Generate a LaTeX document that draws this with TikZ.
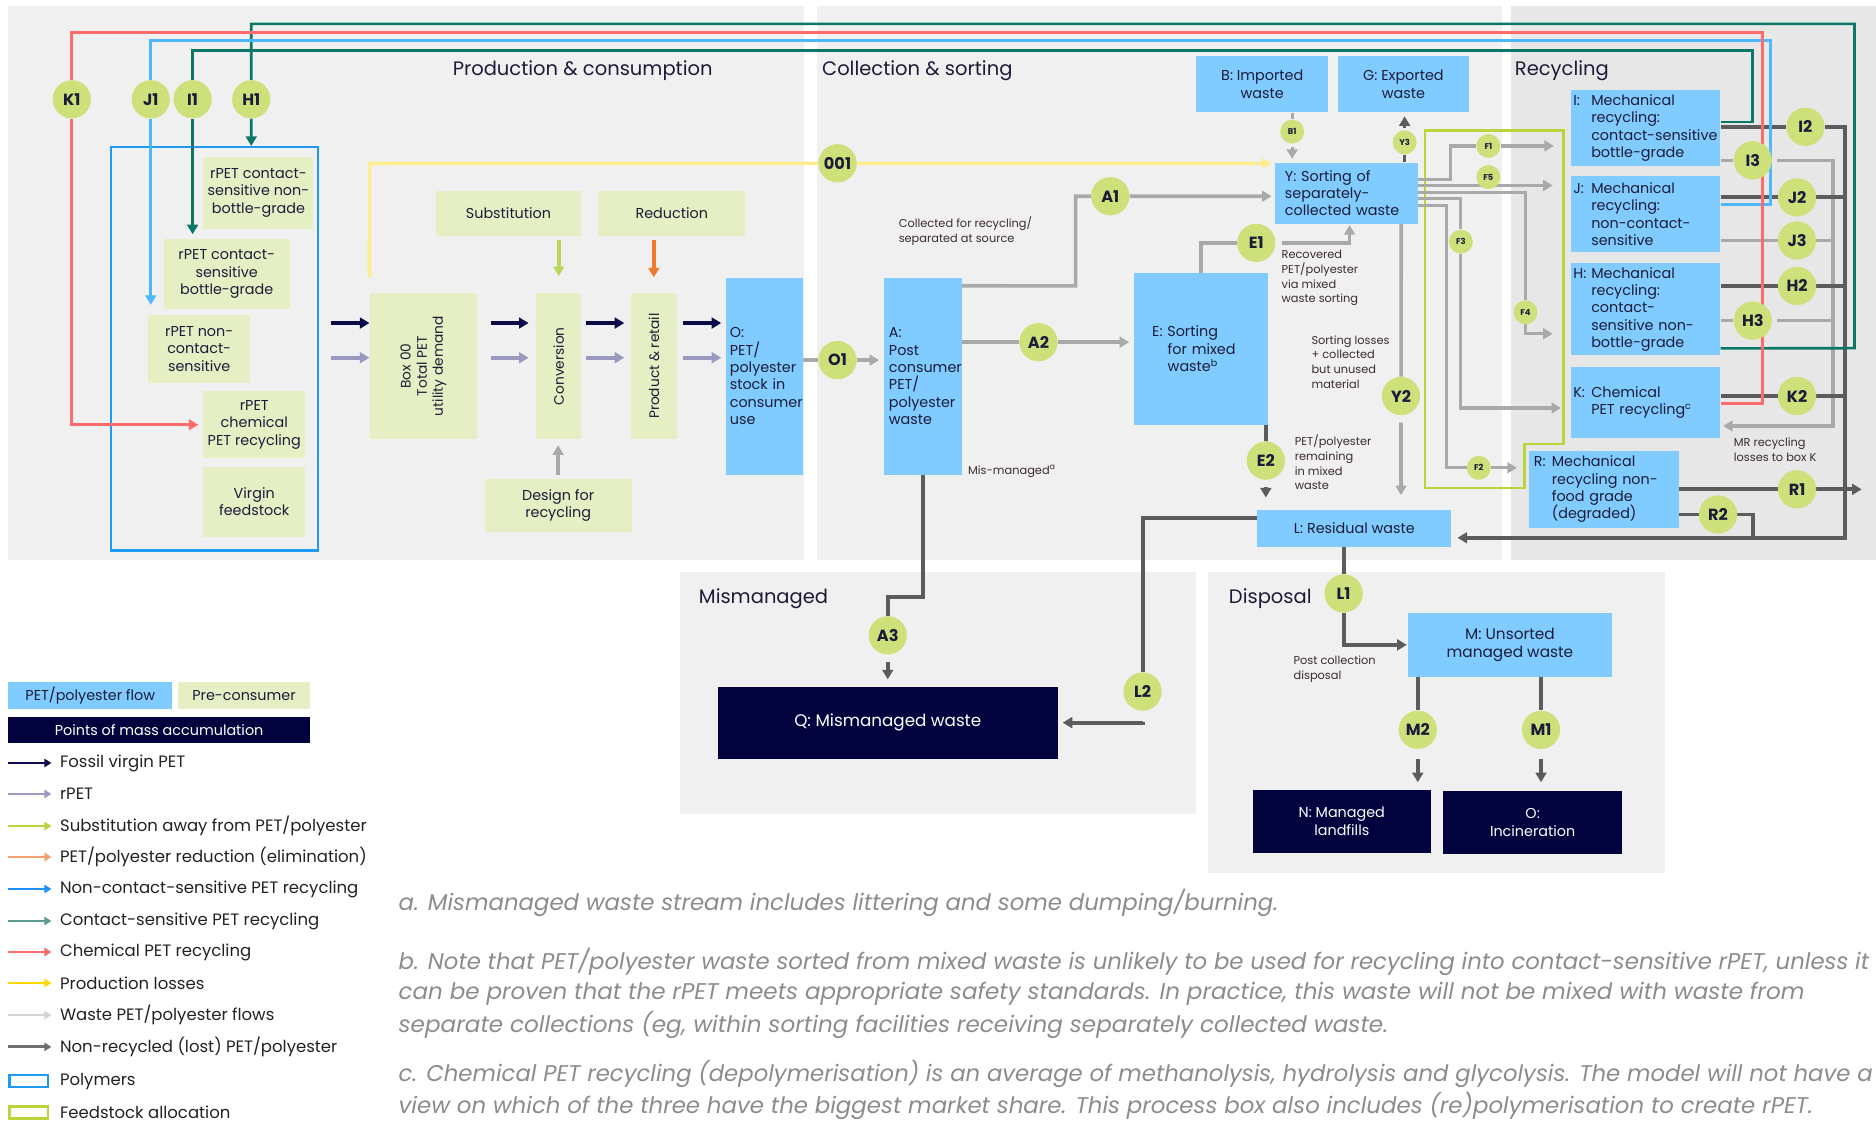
\documentclass[tikz,border=0pt]{standalone}
\usepackage{fontspec}
\usepackage{graphicx}
\setmainfont{Poppins}
\usetikzlibrary{arrows.meta,calc}
\definecolor{cpanel}{HTML}{F0F0F0}
\definecolor{cpanelb}{HTML}{E7E7E7}
\definecolor{cblue}{HTML}{80CBFF}
\definecolor{cpre}{HTML}{E6EFC3}
\definecolor{cnavy}{HTML}{02023F}
\definecolor{ccirc}{HTML}{CDE07A}
\definecolor{txt}{HTML}{1C1C3A}
\definecolor{cteal}{HTML}{0B7768}
\definecolor{cred}{HTML}{FF6B6B}
\definecolor{clblue}{HTML}{4DB8FF}
\definecolor{cpoly}{HTML}{1C9BF0}
\definecolor{cyel}{HTML}{FFEC8E}
\definecolor{cflow}{HTML}{A9A9A9}
\definecolor{clost}{HTML}{5C5C5C}
\definecolor{cnavar}{HTML}{0B0B47}
\definecolor{crpet}{HTML}{9B99BF}
\definecolor{csub}{HTML}{B9D65A}
\definecolor{corange}{HTML}{F07A30}
\definecolor{cfeed}{HTML}{B8D53A}
\definecolor{cann}{HTML}{3B2C2C}
\definecolor{cnote}{HTML}{8C8C8C}
\definecolor{lnav}{HTML}{0D0D4D}
\definecolor{lrpet}{HTML}{9C9AC2}
\definecolor{lsub}{HTML}{B8D43A}
\definecolor{lorange}{HTML}{F5A070}
\definecolor{lnc}{HTML}{1E90FF}
\definecolor{lcs}{HTML}{5E9C93}
\definecolor{lchem}{HTML}{FF6B6B}
\definecolor{lprod}{HTML}{FFD700}
\definecolor{lwaste}{HTML}{D3D3D3}
\definecolor{llost}{HTML}{6E6E6E}
\definecolor{legtxt}{HTML}{222222}
\newcommand\bxf{\fontsize{12}{14.5}\selectfont}
\newcommand\rotf{\fontsize{11.5}{13.5}\selectfont}
\newcommand\titlef{\fontsize{16.3}{20}\selectfont}
\newcommand\circf{\fontsize{13.5}{13.5}\selectfont\bfseries}
\newcommand\scircf{\fontsize{7}{7}\selectfont\bfseries}
\newcommand\annf{\fontsize{9.5}{12.3}\selectfont}
\newcommand\legf{\fontsize{13.8}{16}\selectfont}
\newcommand\legbf{\fontsize{12}{14}\selectfont}
\newcommand\notef{\fontsize{19}{22}\selectfont\itshape}
\newcommand\lbx[1]{\makebox[15pt][l]{#1}}
\newcommand\hin{\hspace*{15pt}}
\newcommand\rbox[7][]{\node[#1, minimum width={#5-#3}, minimum height={#6-#4}] (#2) at ({(#3+#5)/2},{(#4+#6)/2}) {#7};}
\pgfdeclarelayer{panels}
\pgfdeclarelayer{lines}
\pgfsetlayers{panels,lines,main}
\tikzset{
  box/.style={inner sep=0pt, align=center, text=txt, font=\bxf},
  bbox/.style={box, fill=cblue},
  gbox/.style={box, fill=cpre},
  nbox/.style={box, fill=cnavy, text=white},
  rbx/.style={bbox, align=left, text width=121pt, inner xsep=2pt},
  lcirc/.style={circle, fill=ccirc, inner sep=0pt, minimum size=32pt, font=\circf, text=txt},
  scirc/.style={circle, fill=ccirc, inner sep=0pt, minimum size=20pt, font=\scircf, text=txt},
  arr/.style={-{Triangle[length=8pt,width=9pt]}},
  larr/.style={-{Triangle[length=6pt,width=7pt]}},
  flow/.style={draw=cflow, line width=3pt},
  fflow/.style={draw=cflow, line width=2.6pt, arr},
  lostflow/.style={draw=clost, line width=3.2pt},
  navyflow/.style={draw=cnavar, line width=3pt, arr},
  rpetflow/.style={draw=crpet, line width=3pt, arr},
  topline/.style={line width=2.2pt, arr},
  ttl/.style={inner sep=0pt, font=\titlef, text=txt},
  ann/.style={inner sep=0pt, anchor=west, align=left, font=\annf, text=cann},
  legtext/.style={inner sep=0pt, anchor=west, font=\legf, text=legtxt},
  note/.style={inner sep=0pt, anchor=west, text=cnote},
}
\begin{document}
\begin{tikzpicture}[x=1pt,y=-1pt]
\useasboundingbox (0,0) rectangle (1568,939);
\begin{pgfonlayer}{panels}
\fill[white] (0,0) rectangle (1568,939);
\fill[cpanel] (7,5) rectangle (672,468);
\fill[cpanel] (683,5) rectangle (1255,468);
\fill[cpanelb] (1263,5) rectangle (1568,468);
\fill[cpanel] (568,478) rectangle (1000,680);
\fill[cpanel] (1010,478) rectangle (1392,730);
\node[draw=cpoly, line width=2pt, minimum width=173pt, minimum height=337pt, inner sep=0pt] (poly) at (179.5,291.5) {};
\draw[cfeed, line width=2.2pt] (1191,109) -- (1307,109) -- (1307,371) -- (1274,371) -- (1274,408) -- (1191,408) -- cycle;
\end{pgfonlayer}

% titles
\node[ttl] (tprod) at (487,59) {Production \& consumption};
\node[ttl, anchor=west] (tcoll) at (687,59) {Collection \& sorting};
\node[ttl, anchor=west] (trec) at (1266,59) {Recycling};
\node[ttl, anchor=west] (tmis) at (584,500) {Mismanaged};
\node[ttl, anchor=west] (tdis) at (1027,500) {Disposal};

% pre-consumer boxes
\rbox[gbox]{pcsnb}{170}{131}{262}{191}{rPET contact-\\sensitive non-\\bottle-grade}
\rbox[gbox]{pcsb}{137}{200}{242}{258}{rPET contact-\\sensitive\\bottle-grade}
\rbox[gbox]{pncs}{124}{263}{209}{320}{rPET non-\\contact-\\sensitive}
\rbox[gbox]{pchem}{170}{327}{255}{383}{rPET\\chemical\\PET recycling}
\rbox[gbox]{virgin}{170}{390}{255}{449}{Virgin\\feedstock}
\rbox[gbox]{box00}{309}{245}{399}{367}{\rotatebox{90}{\rotf\begin{tabular}{@{}c@{}}Box 00\\Total PET\\utility demand\end{tabular}}}
\rbox[gbox]{conv}{448}{245}{486}{367}{\rotatebox{90}{\rotf Conversion}}
\rbox[gbox]{prod}{527}{245}{566}{367}{\rotatebox{90}{\rotf Product \& retail}}
\rbox[gbox]{subst}{364}{160}{486}{197}{Substitution}
\rbox[gbox]{reduc}{500}{160}{623}{197}{Reduction}
\rbox[gbox]{design}{405}{400}{528}{445}{Design for\\recycling}

% blue boxes
\rbox[bbox, align=left, text width=58pt, inner xsep=3pt]{Obox}{607}{232}{671}{397}{O:\\PET/\\polyester\\stock in\\consumer\\use}
\rbox[bbox, align=left, text width=57pt, inner xsep=4pt]{Abox}{739}{232}{804}{397}{A:\\Post\\consumer\\PET/\\polyester\\waste}
\rbox[bbox, align=left, text width=82pt, inner xsep=15pt]{Ebox}{948}{228}{1060}{355}{E: Sorting\\\hspace*{13pt}for mixed\\\hspace*{13pt}waste\textsuperscript{b}}
\rbox[bbox, align=left, text width=103pt, inner xsep=8pt]{Ybox}{1066}{136}{1185}{187}{Y: Sorting of\\separately-\\collected waste}
\rbox[bbox]{Bbox}{1000}{47}{1110}{94}{B: Imported\\waste}
\rbox[bbox]{Gbox}{1118}{47}{1228}{94}{G: Exported\\waste}
\rbox[bbox]{Lbox}{1051}{426}{1213}{457}{L: Residual waste}
\rbox[rbx]{Ibox}{1313}{75}{1438}{139}{\lbx{I:}Mechanical\\\hin recycling:\\\hin contact-sensitive\\\hin bottle-grade}
\rbox[rbx]{Jbox}{1313}{147}{1438}{211}{\lbx{J:}Mechanical\\\hin recycling:\\\hin non-contact-\\\hin sensitive}
\rbox[rbx]{Hbox}{1313}{220}{1438}{297}{\lbx{H:}Mechanical\\\hin recycling:\\\hin contact-\\\hin sensitive non-\\\hin bottle-grade}
\rbox[rbx]{Kbox}{1313}{307}{1438}{366}{\lbx{K:}Chemical\\\hin PET recycling\textsuperscript{c}}
\rbox[bbox, align=left, text width=117pt, inner xsep=4pt]{Rbox}{1278}{377}{1403}{441}{\lbx{R:}Mechanical\\\hin recycling non-\\\hin food grade\\\hin (degraded)}
\rbox[bbox, font=\fontsize{12.8}{15}\selectfont]{Mbox}{1177}{512}{1347}{566}{M: Unsorted\\managed waste}
\rbox[nbox, font=\fontsize{14}{16}\selectfont]{Qbox}{600}{574}{884}{634}{Q: Mismanaged waste}
\rbox[nbox]{Nbox}{1047}{660}{1196}{713}{N: Managed\\landfills}
\rbox[nbox]{Oinc}{1206}{661}{1356}{714}{O:\\Incineration}

% circles
\node[lcirc] (K1) at (60,83) {K1};
\node[lcirc] (J1) at (126,83) {J1};
\node[lcirc] (I1) at (161,83) {I1};
\node[lcirc] (H1) at (210,83) {H1};
\node[lcirc] (n001) at (700,136.5) {001};
\node[lcirc] (O1) at (700,301) {O1};
\node[lcirc] (A1) at (928,164) {A1};
\node[lcirc] (A2) at (868,286) {A2};
\node[lcirc] (A3) at (742,531) {A3};
\node[lcirc] (E1) at (1050,203) {E1};
\node[lcirc] (E2) at (1058,385) {E2};
\node[lcirc] (Y2) at (1171,331) {Y2};
\node[lcirc] (L1) at (1123,496) {L1};
\node[lcirc] (L2) at (955,578) {L2};
\node[lcirc] (M2) at (1185,610) {M2};
\node[lcirc] (M1) at (1288,610) {M1};
\node[lcirc] (I2) at (1509,106) {I2};
\node[lcirc] (I3) at (1465,134) {I3};
\node[lcirc] (J2) at (1502,165) {J2};
\node[lcirc] (J3) at (1502,201) {J3};
\node[lcirc] (H2) at (1502,239) {H2};
\node[lcirc] (H3) at (1465,268) {H3};
\node[lcirc] (K2) at (1502,331) {K2};
\node[lcirc] (R1) at (1502,409) {R1};
\node[lcirc] (R2) at (1436,430) {R2};
\node[scirc] (B1) at (1080,110) {B1};
\node[scirc] (Y3) at (1174,119) {Y3};
\node[scirc] (F1) at (1244,122) {F1};
\node[scirc] (F5) at (1244,148) {F5};
\node[scirc] (F3) at (1221,202) {F3};
\node[scirc] (F4) at (1275,261) {F4};
\node[scirc] (F2) at (1236,391) {F2};
\coordinate (nv0) at (277,270);
\coordinate (rp0) at (277,299);
\coordinate (r1end) at (1556,409);

% annotations
\node[ann] (annA) at (751,193) {Collected for recycling/\\separated at source};
\node[ann] (annE1) at (1071,232.5) {Recovered\\PET/polyester\\via mixed\\waste sorting};
\node[ann] (annY2) at (1096,302.5) {Sorting losses\\+ collected\\but unused\\material};
\node[ann] (annE2) at (1082,386.5) {PET/polyester\\remaining\\in mixed\\waste};
\node[ann] (annMis) at (809,394) {Mis-managed\textsuperscript{a}};
\node[ann] (annPost) at (1081,559.5) {Post collection\\disposal};
\node[ann] (annMR) at (1449,376) {MR recycling\\losses to box K};

% connectors
\begin{pgfonlayer}{lines}
\draw[navyflow] (nv0) -- (nv0 -| box00.west);
\draw[rpetflow] (rp0) -- (rp0 -| box00.west);
\draw[navyflow, shorten <=11pt, shorten >=6pt] (nv0 -| box00.east) -- (nv0 -| conv.west);
\draw[rpetflow, shorten <=11pt, shorten >=6pt] (rp0 -| box00.east) -- (rp0 -| conv.west);
\draw[navyflow, shorten <=4pt, shorten >=5pt] (nv0 -| conv.east) -- (nv0 -| prod.west);
\draw[rpetflow, shorten <=4pt, shorten >=5pt] (rp0 -| conv.east) -- (rp0 -| prod.west);
\draw[navyflow, shorten <=5pt, shorten >=4pt] (nv0 -| prod.east) -- (nv0 -| Obox.west);
\draw[rpetflow, shorten <=5pt, shorten >=4pt] (rp0 -| prod.east) -- (rp0 -| Obox.west);
\draw[draw=csub, line width=3pt, arr, shorten <=3pt, shorten >=14pt] (conv.north |- subst.south) -- (conv.north);
\draw[draw=corange, line width=3pt, arr, shorten <=3pt, shorten >=13pt] (prod.north |- reduc.south) -- (prod.north);
\draw[flow, arr, shorten <=3pt, shorten >=5pt] (design.north) -- (design.north |- conv.south);
\draw[cyel, line width=3pt, arr, shorten >=3pt] ([yshift=13pt]box00.north west) -- (309,136.5) -- (n001) -- ([yshift=25pt]Ybox.west);
\draw[flow, arr, shorten >=4pt] ([yshift=13.5pt]Obox.east) -- (O1) -- (O1 -| Abox.west);
\draw[flow, arr, shorten >=3pt] ([yshift=-7pt]Abox.north east) -- (899,239) -- (899,164) -- (A1) -- (A1 -| Ybox.west);
\draw[flow, arr, shorten >=4pt] ([yshift=28.5pt]Abox.east) -- (A2) -- (A2 -| Ebox.west);
\draw[lostflow, arr, shorten <=6pt, shorten >=6pt] (Abox.south) -- (771.5,499) -- (742,499) -- (A3) -- (A3 |- Qbox.north);
\draw[flow, arr, shorten <=5pt, shorten >=1pt] (Ebox.north) -- (1004,203) -- (E1) -- (1128,203) -- ([xshift=2.5pt]Ybox.south);
\draw[lostflow, arr, shorten <=6pt, shorten >=10pt] ([xshift=-2pt]Ebox.south east) -- (E2) -- (E2 |- Lbox.north);
\draw[flow, arr, shorten <=6pt, shorten >=12pt] ([xshift=-14pt]Ybox.south east) -- (Y2) -- (Y2 |- Lbox.north);
\draw[draw=cflow, line width=2.5pt, arr, shorten <=3pt, shorten >=3pt] ([xshift=25pt]Bbox.south) -- (B1) -- (B1 |- Ybox.north);
\draw[draw=clost, line width=2.5pt, arr, shorten <=2pt, shorten >=3pt] (Y3 |- Ybox.north) -- (Y3) -- (Y3 |- Gbox.south);
% F flows
\draw[fflow, shorten >=14pt] ([yshift=11.5pt]Ybox.east) -- (1212,150) -- (1212,122) -- (F1) -- (F1 -| Ibox.west);
\draw[fflow, shorten >=15pt] ([yshift=6.5pt]Ybox.east) -- ([yshift=24pt]Jbox.west);
\draw[fflow, shorten >=15pt] ([yshift=0.5pt]Ybox.east) -- (1275,161) -- (F4) -- (1275,279) -- ([yshift=-20.5pt]Hbox.west);
\draw[fflow, shorten >=8pt] ([yshift=-4.5pt]Ybox.east) -- (1221,166) -- (F3) -- (1221,341) -- ([yshift=-4.5pt]Kbox.west);
\draw[fflow, shorten >=10pt] ([yshift=-10.5pt]Ybox.east) -- (1209,172) -- (1209,391) -- (F2) -- ([yshift=18pt]Rbox.west);
% light grey recycling losses
\draw[flow, arr, shorten <=4pt, shorten >=2pt] ([yshift=-27pt]Ibox.east) -- (I3) -- (1532,134) -- (1532,356) -- ([yshift=-19.5pt]Kbox.east);
\draw[flow] ([yshift=-22pt]Jbox.east) -- (J3) -- (1532,201);
\draw[flow, shorten <=4pt] ([yshift=-9.5pt]Hbox.east) -- (H3) -- (1532,268);
% dark lost flows
\draw[lostflow, arr, shorten >=5pt] ([yshift=1pt]Ibox.east) -- (I2) -- (1542,106) -- (1542,449.5) -- ([yshift=-8pt]Lbox.east);
\draw[lostflow] ([yshift=14pt]Jbox.east) -- (J2) -- (1542,165);
\draw[lostflow] ([yshift=19.5pt]Hbox.east) -- (H2) -- (1542,239);
\draw[lostflow] ([yshift=5.5pt]Kbox.east) -- (K2) -- (1542,331);
\draw[lostflow, arr] (Rbox.east) -- (R1) -- (r1end);
\draw[lostflow] ([yshift=-21pt]Rbox.east) -- (R2) -- (1465,430) -- (1465,449.5);
\draw[lostflow, arr, shorten >=1pt] ([xshift=-9pt]Lbox.south) -- (L1) -- (1123,539) -- (Mbox.west);
\draw[lostflow, arr, shorten <=9pt, shorten >=4pt] ([yshift=8.5pt]Lbox.west) -- (955,433) -- (L2) -- (L2 |- Qbox.east) -- (Qbox.east);
\draw[lostflow, arr, shorten <=8pt, shorten >=6pt] (M2 |- Mbox.south) -- (M2) -- (M2 |- Nbox.north);
\draw[lostflow, arr, shorten <=8pt, shorten >=7pt] (M1 |- Mbox.south) -- (M1) -- (M1 |- Oinc.north);
% top colour lines
\draw[cteal, topline] ([yshift=6pt]Hbox.south east) -- (1550,291) -- (1550,20) -- (210,20) -- (H1) -- (H1 |- poly.north);
\draw[cteal, topline, shorten >=4pt] ([yshift=5pt]Ibox.east) -- (1465,102) -- (1465,42) -- (161,42) -- (I1) -- (I1 |- pcsb.north);
\draw[clblue, topline, shorten >=8pt] ([yshift=8pt]Jbox.east) -- (1480,171) -- (1480,34) -- (126,34) -- (J1) -- (J1 |- pncs.north);
\draw[cred, topline, shorten >=4pt] ([yshift=-0.5pt]Kbox.east) -- (1473,337) -- (1473,27) -- (60,27) -- (K1) -- (60,355) -- (pchem.west);
\end{pgfonlayer}

% legend
\rbox[bbox, font=\legbf]{lgpet}{7}{570}{144}{593}{PET/polyester flow}
\rbox[gbox, font=\legbf]{lgpre}{149}{570}{259}{593}{Pre-consumer}
\rbox[nbox, font=\legbf]{lgacc}{7}{599}{259}{621}{Points of mass accumulation}
\node[legtext] (lt1) at (50,637.7) {Fossil virgin PET};
\node[legtext] (lt2) at (50,663.6) {rPET};
\node[legtext] (lt3) at (50,690.4) {Substitution away from PET/polyester};
\node[legtext] (lt4) at (50,716.3) {PET/polyester reduction (elimination)};
\node[legtext] (lt5) at (50,743) {Non-contact-sensitive PET recycling};
\node[legtext] (lt6) at (50,769.8) {Contact-sensitive PET recycling};
\node[legtext] (lt7) at (50,795.7) {Chemical PET recycling};
\node[legtext] (lt8) at (50,821.6) {Production losses};
\node[legtext] (lt9) at (50,848.4) {Waste PET/polyester flows};
\node[legtext] (lt10) at (50,875) {Non-recycled (lost) PET/polyester};
\node[legtext] (lt11) at (50,903.6) {Polymers};
\node[legtext] (lt12) at (50,930) {Feedstock allocation};
\foreach \n/\c in {lt1/lnav,lt2/lrpet,lt3/lsub,lt4/lorange,lt5/lnc,lt6/lcs,lt7/lchem,lt8/lprod,lt9/lwaste,lt10/llost}
  \draw[\c, line width=2.4pt, larr] ([xshift=-43pt]\n.west) -- ([xshift=-7pt]\n.west);
\node[draw=cpoly, line width=2.2pt, minimum width=32pt, minimum height=10pt, inner sep=0pt] (lgpoly) at (24,903.6) {};
\node[draw=cfeed, line width=2.2pt, minimum width=32pt, minimum height=10pt, inner sep=0pt] (lgfeed) at (24,930) {};

% footnotes
\node[note] (na) at (333,755) {\resizebox{735pt}{\height}{\notef a. Mismanaged waste stream includes littering and some dumping/burning.}};
\node[note] (nb1) at (333,804) {\resizebox{1229pt}{\height}{\notef b. Note that PET/polyester waste sorted from mixed waste is unlikely to be used for recycling into contact-sensitive rPET, unless it}};
\node[note] (nb2) at (333,831) {\resizebox{1175pt}{\height}{\notef can be proven that the rPET meets appropriate safety standards. In practice, this waste will not be mixed with waste from}};
\node[note] (nb3) at (333,857) {\resizebox{827pt}{\height}{\notef separate collections (eg, within sorting facilities receiving separately collected waste.}};
\node[note] (nc1) at (333,898) {\resizebox{1232pt}{\height}{\notef c. Chemical PET recycling (depolymerisation) is an average of methanolysis, hydrolysis and glycolysis. The model will not have a}};
\node[note] (nc2) at (333,924) {\resizebox{1182pt}{\height}{\notef view on which of the three have the biggest market share. This process box also includes (re)polymerisation to create rPET.}};
\end{tikzpicture}
\end{document}
